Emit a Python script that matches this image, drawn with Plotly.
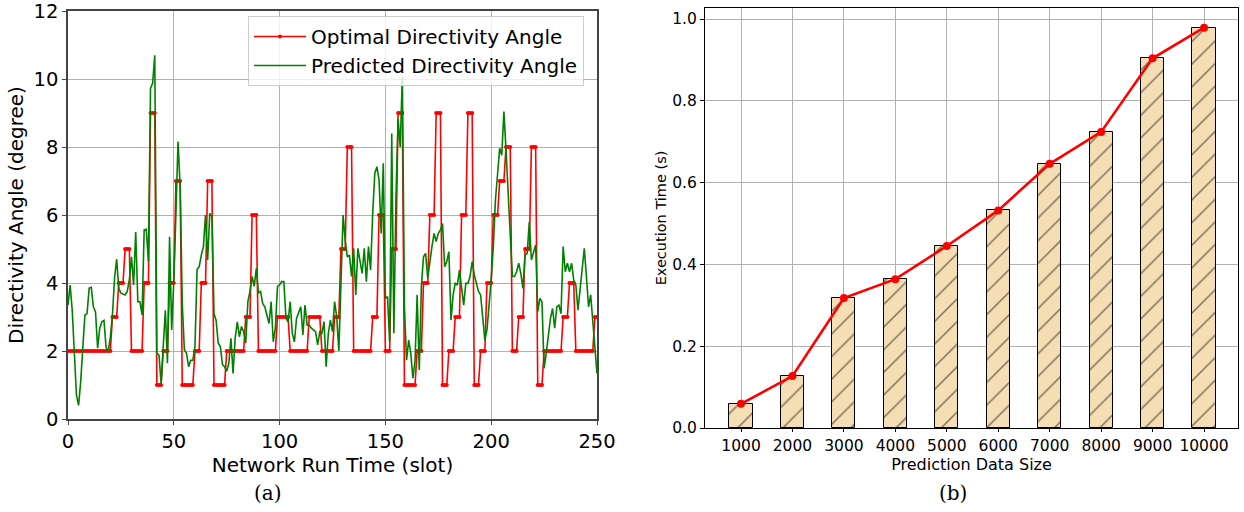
import plotly.graph_objects as go

# ---------------- Panel (a) data ----------------
slots = list(range(0, 251))

optimal_angle = [
    2, 2, 2, 2, 2, 2, 2, 2, 2, 2, 2, 2, 2, 2, 2, 2, 2, 2, 2, 2, 2,
    3, 3, 3, 4, 4, 4, 5, 5, 5, 2, 2, 2, 2, 2, 2,
    4, 4, 4, 9, 9, 9, 1, 1, 1, 2, 2, 2, 4, 4, 4, 7, 7, 7,
    1, 1, 1, 1, 1, 1, 2, 2, 2, 4, 4, 4, 7, 7, 7,
    1, 1, 1, 1, 1, 1, 2, 2, 2, 2, 2, 2, 2, 2, 2, 3, 3, 3, 6, 6, 6,
    2, 2, 2, 2, 2, 2, 2, 2, 2, 3, 3, 3, 3, 3, 3,
    2, 2, 2, 2, 2, 2, 2, 2, 2, 3, 3, 3, 3, 3, 3,
    2, 2, 2, 2, 2, 2, 3, 3, 3, 5, 5, 5, 8, 8, 8,
    2, 2, 2, 2, 2, 2, 2, 2, 2, 3, 3, 3, 6, 6, 6, 2, 2, 2, 5, 5, 5, 9, 9, 9,
    1, 1, 1, 1, 1, 1, 2, 2, 2, 4, 4, 4, 6, 6, 6, 9, 9, 9, 1, 1, 1,
    2, 2, 2, 3, 3, 3, 6, 6, 6, 9, 9, 9, 1, 1, 1,
    2, 2, 2, 4, 4, 4, 6, 6, 6, 7, 7, 7, 8, 8, 8,
    2, 2, 2, 3, 3, 3, 5, 5, 5, 8, 8, 8, 1, 1, 1,
    2, 2, 2, 2, 2, 2, 2, 2, 2, 3, 3, 3, 4, 4, 4,
    2, 2, 2, 2, 2, 2, 2, 2, 2, 3, 3,
]

predicted_angle = [
    3.35, 3.94, 3.20, 2.00, 0.70, 0.40, 1.10, 2.10, 3.06, 3.10,
    3.85, 3.87, 3.30, 3.15, 2.08, 2.67, 2.86, 2.90, 2.10, 1.98,
    2.40, 3.06, 4.14, 4.70, 3.84, 3.70, 3.68, 3.65, 3.75, 4.10,
    4.77, 3.94, 5.50, 3.45, 3.45, 3.06, 5.56, 5.58, 4.63, 9.73,
    9.87, 10.70, 1.93, 1.88, 1.05, 2.13, 3.20, 1.64, 5.36, 2.62,
    4.04, 6.05, 8.16, 6.83, 3.40, 2.03, 1.93, 1.54, 1.73, 1.73,
    2.13, 4.40, 4.48, 4.82, 5.07, 6.00, 4.68, 6.05, 5.95, 3.10,
    2.90, 2.23, 2.13, 1.60, 1.54, 1.40, 1.64, 2.37, 1.34, 2.37,
    2.86, 2.42, 2.72, 2.57, 2.23, 3.45, 3.75, 4.19, 3.90, 4.43,
    3.70, 3.75, 3.40, 3.30, 3.06, 2.81, 3.45, 2.27, 2.67, 3.90,
    3.94, 4.04, 4.04, 2.96, 2.86, 3.45, 2.52, 2.27, 2.96, 3.16,
    3.30, 2.47, 3.35, 2.76, 2.76, 2.67, 2.62, 2.57, 2.18, 2.57,
    2.52, 2.86, 1.54, 2.50, 2.91, 2.57, 3.45, 3.00, 2.00, 4.10,
    6.00, 5.26, 4.77, 4.82, 4.19, 5.02, 3.65, 5.02, 4.58, 4.28,
    5.02, 4.04, 5.07, 4.38, 6.05, 7.23, 7.42, 7.03, 5.46, 7.52,
    3.55, 3.60, 2.27, 8.40, 2.52, 6.54, 8.84, 8.00, 10.07, 3.30,
    1.73, 2.32, 1.93, 1.20, 1.69, 3.65, 1.44, 3.90, 4.77, 4.87,
    4.14, 4.68, 5.07, 5.46, 5.22, 5.46, 5.56, 5.75, 4.48, 4.63,
    4.92, 2.91, 3.65, 3.99, 3.94, 4.38, 3.79, 3.35, 3.99, 3.99,
    4.19, 4.63, 4.24, 3.99, 3.75, 3.65, 3.01, 2.32, 2.62, 3.30,
    4.09, 5.07, 6.44, 7.20, 7.96, 7.76, 9.04, 7.91, 6.55, 5.07,
    4.19, 4.19, 4.33, 4.58, 4.28, 3.84, 4.82, 4.87, 5.80, 4.68,
    4.87, 5.12, 3.16, 3.55, 3.45, 1.49, 1.93, 2.52, 2.96, 3.25,
    2.67, 3.30, 3.35, 3.10, 5.07, 4.33, 4.58, 4.33, 4.58, 4.09,
    3.94, 3.20, 3.79, 4.28, 5.02, 4.19, 3.30, 3.65, 2.91, 1.93,
    1.34,
]

x_ticks_a = [0, 50, 100, 150, 200, 250]
y_ticks_a = [0, 2, 4, 6, 8, 10, 12]

# ---------------- Panel (b) data ----------------
data_sizes = ["1000", "2000", "3000", "4000", "5000",
              "6000", "7000", "8000", "9000", "10000"]
exec_time = [0.059, 0.127, 0.318, 0.364, 0.445,
             0.532, 0.646, 0.724, 0.904, 0.979]
y_ticks_b = [0.0, 0.2, 0.4, 0.6, 0.8, 1.0]

W, H = 1244, 512
FONT = "DejaVu Sans"

fig = go.Figure()

fig.add_trace(go.Scatter(
    x=slots, y=optimal_angle, mode="lines+markers",
    name="Optimal Directivity Angle",
    line=dict(color="red", width=1.6),
    marker=dict(color="red", size=4),
    xaxis="x", yaxis="y",
))
fig.add_trace(go.Scatter(
    x=slots, y=predicted_angle, mode="lines",
    name="Predicted Directivity Angle",
    line=dict(color="green", width=1.6),
    xaxis="x", yaxis="y",
))

fig.add_trace(go.Bar(
    x=data_sizes, y=exec_time, width=0.45, showlegend=False,
    marker=dict(
        color="#F5DEB3",
        line=dict(color="black", width=1),
        pattern=dict(shape="/", fgcolor="black", bgcolor="#F5DEB3",
                     size=16, solidity=0.09),
    ),
    xaxis="x2", yaxis="y2",
))
fig.add_trace(go.Scatter(
    x=data_sizes, y=exec_time, mode="lines+markers", showlegend=False,
    line=dict(color="red", width=2.6),
    marker=dict(color="red", size=8),
    xaxis="x2", yaxis="y2",
))

def px_x(p):
    return p / W

def px_y(p):
    return 1 - p / H

axis_common = dict(showline=True, mirror=True, ticks="outside",
                   showgrid=True, gridcolor="#b0b0b0", gridwidth=1,
                   zeroline=False, automargin=False,
                   ticklabeloverflow="allow")

fig.update_layout(
    width=W, height=H,
    margin=dict(l=0, r=0, t=0, b=0, autoexpand=False),
    paper_bgcolor="white", plot_bgcolor="white",
    font=dict(family=FONT, color="black"),
    xaxis=dict(domain=[px_x(68), px_x(597)], range=[0, 250],
               tickvals=x_ticks_a, anchor="y", ticklen=4,
               linecolor="#444", tickcolor="#444", linewidth=1.5,
               tickfont=dict(size=19.5),
               title=dict(text="Network Run Time (slot)", font=dict(size=20), standoff=0),
               **axis_common),
    yaxis=dict(domain=[px_y(419), px_y(11)], range=[0, 12],
               tickvals=y_ticks_a, anchor="x", ticklen=4,
               linecolor="#444", tickcolor="#444", linewidth=1.5,
               tickfont=dict(size=19.5),
               title=dict(text="Directivity Angle (degree)", font=dict(size=20), standoff=5),
               **axis_common),
    xaxis2=dict(domain=[px_x(705), px_x(1238)], range=[-0.7, 9.66],
                type="category", anchor="y2", ticklen=3,
                linecolor="black", tickcolor="black", linewidth=1,
                tickfont=dict(size=15.5),
                title=dict(text="Prediction Data Size", font=dict(size=16), standoff=0),
                **axis_common),
    yaxis2=dict(domain=[px_y(428), px_y(8)], range=[0, 1.027],
                tickvals=y_ticks_b, tickformat=".1f", anchor="x2", ticklen=4,
                linecolor="black", tickcolor="black", linewidth=1,
                tickfont=dict(size=15.5),
                title=dict(text="Execution Time (s)", font=dict(size=14.5), standoff=2),
                **axis_common),
    legend=dict(x=px_x(248), y=px_y(16), xanchor="left", yanchor="top",
                bgcolor="rgba(255,255,255,0.8)", bordercolor="#cccccc",
                borderwidth=1, font=dict(size=20), tracegroupgap=0,
                itemwidth=52),
    bargap=0,
    annotations=[
        dict(text="(a)", x=px_x(268), y=px_y(493), xref="paper", yref="paper",
             xanchor="center", yanchor="middle",
             showarrow=False, font=dict(family="DejaVu Serif", size=20)),
        dict(text="(b)", x=px_x(953), y=px_y(493), xref="paper", yref="paper",
             xanchor="center", yanchor="middle",
             showarrow=False, font=dict(family="DejaVu Serif", size=20)),
    ],
)

fig.write_html("out.html")
